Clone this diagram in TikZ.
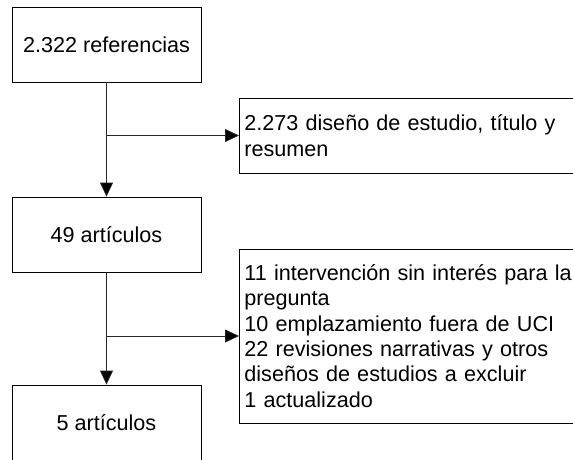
\documentclass[tikz,border=0pt]{standalone}
\usepackage{fontspec}
\setmainfont{Liberation Sans}
\usetikzlibrary{arrows.meta}

\begin{document}
\begin{tikzpicture}[x=1pt, y=-1pt,
        font=\fontsize{21.6}{25.3}\selectfont,
        caja/.style={draw, line width=0.8pt, minimum width=189pt, minimum height=75pt},
        excl/.style={draw, line width=0.8pt, anchor=west, text width=330pt, inner xsep=5pt, align=left},
        flecha/.style={draw=black!85, line width=0.8pt, -{Triangle[length=14pt,width=13pt,fill=black]}}]
        \useasboundingbox (0,0) rectangle (573,459);
        \clip (0,0) rectangle (573,459);
        \node[caja] (refs) at (106.5,44.5) {2.322 referencias};
        \node[excl, minimum height=75pt] (excl1) at (239,135.5) {2.273 diseño de estudio, título y\\resumen};
        \node[caja] (art49) at (106.5,234.5) {49 artículos};
        \node[excl, minimum height=174pt] (excl2) at (239,336) {11 intervención sin interés para la\\pregunta\\10 emplazamiento fuera de UCI\\22 revisiones narrativas y otros\\diseños de estudios a excluir\\1 actualizado};
        \node[caja] (art5) at (106.5,422.5) {5 artículos};
        \draw[flecha] (refs) -- (art49);
        \draw[flecha] (refs |- excl1.west) -- (excl1.west);
        \draw[flecha] (art49) -- (art5);
        \draw[flecha] (art49 |- excl2.west) -- (excl2.west);
    \end{tikzpicture}
\end{document}
